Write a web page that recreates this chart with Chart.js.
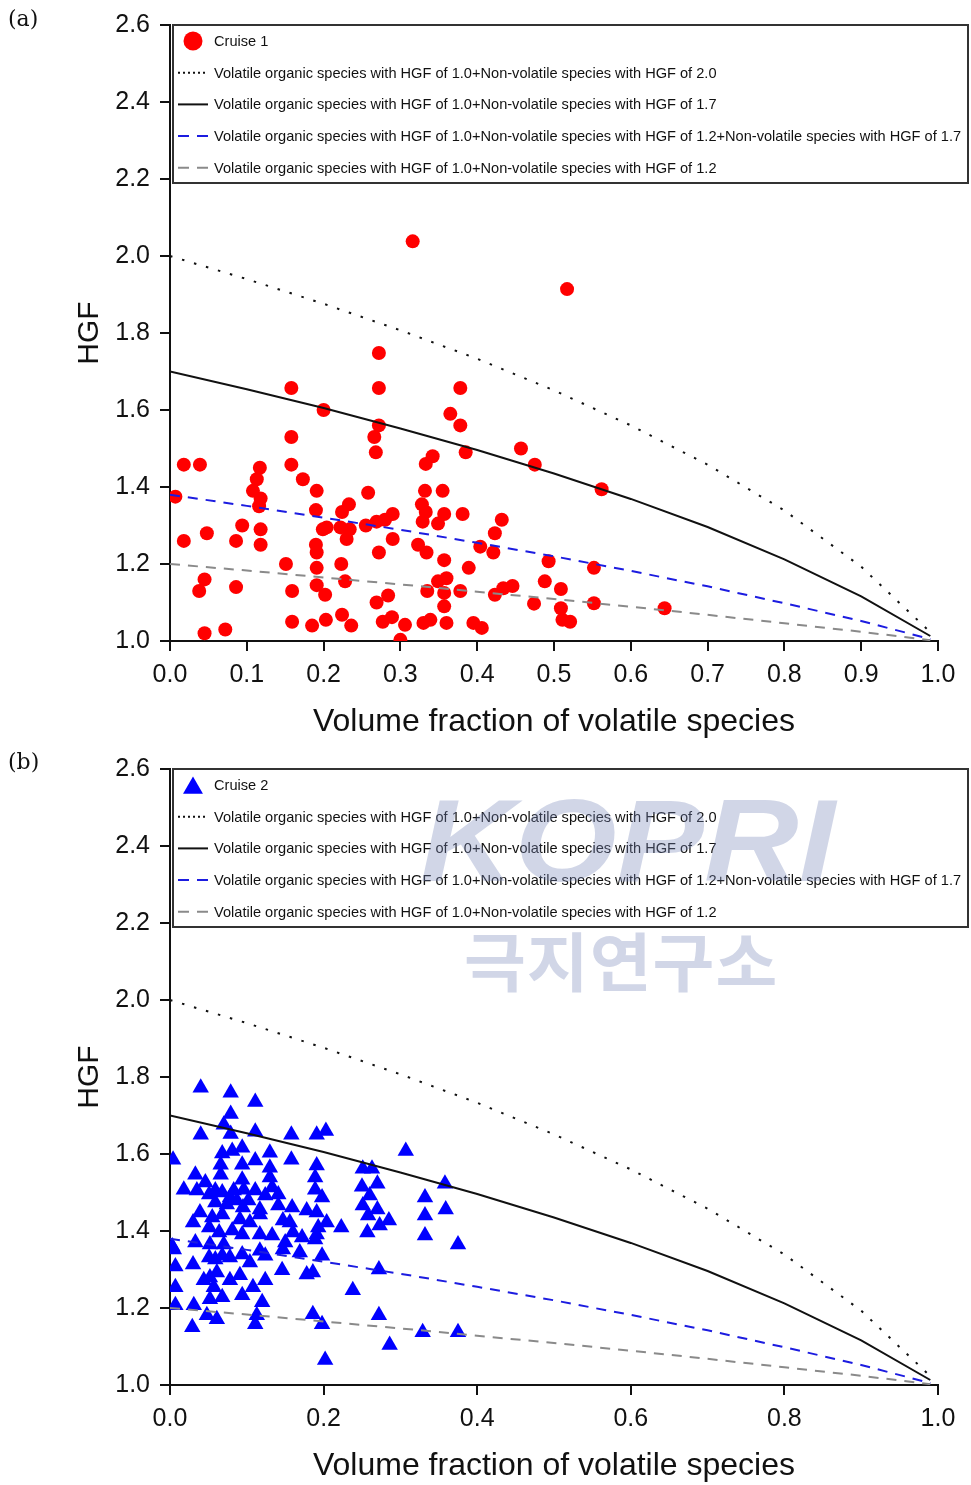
<!DOCTYPE html>
<html>
<head>
<meta charset="utf-8">
<script src="https://cdn.jsdelivr.net/npm/chart.js@4.4.0/dist/chart.umd.min.js"></script>
<style>
  html, body { margin: 0; padding: 0; background: #fff; overflow: hidden; }
  .panel { position: absolute; left: 0; width: 971px; height: 744px; }
  .tag { position: absolute; left: 8px; font: 22px "DejaVu Serif", "Liberation Serif", serif; color: #111; }
  .wm { position: absolute; pointer-events: none; color: rgba(120, 135, 185, 0.34); white-space: nowrap; transform-origin: 0 0; }
</style>
</head>
<body>
<div class="panel" style="top:0">
  <canvas id="chartA" width="971" height="744"></canvas>
  <div class="tag" style="top:6px">(a)</div>
</div>
<div class="panel" style="top:744px">
  <canvas id="chartB" width="971" height="744"></canvas>
  <div class="tag" style="top:5px">(b)</div>
  <div class="wm" style="left:420px;top:30px;font:italic bold 116px 'Liberation Sans',Arial,sans-serif;transform:scaleX(1.13)">KOPRI</div>
  <div class="wm" style="left:464px;top:168px;font:bold 64px 'Noto Sans CJK KR',sans-serif;letter-spacing:1px;transform:scaleX(1.05)">극지연구소</div>
</div>
<script>
// model curves (volatile fraction vs. HGF)
const modelFrac = [0, 0.1, 0.2, 0.3, 0.4, 0.5, 0.6, 0.7, 0.8, 0.9, 0.99];
const hgfNv20 = [2.000, 1.940, 1.876, 1.807, 1.733, 1.651, 1.560, 1.458, 1.339, 1.193, 1.023];
const hgfNv17 = [1.700, 1.654, 1.605, 1.552, 1.496, 1.435, 1.369, 1.296, 1.212, 1.116, 1.013];
const hgfNvMix = [1.380, 1.351, 1.320, 1.289, 1.255, 1.220, 1.182, 1.142, 1.098, 1.052, 1.005];
const hgfNv12 = [1.200, 1.183, 1.165, 1.147, 1.128, 1.109, 1.089, 1.068, 1.046, 1.024, 1.002];

// Cruise 1 measurements
const cruise1Frac = [
  0.158,0.200,0.158,0.018,0.039,0.158,0.117,0.113,0.173,0.108,0.191,0.007,0.118,0.116,0.190,0.094,0.199,0.048,0.118,0.018,
  0.086,0.118,0.190,0.191,0.151,0.191,0.045,0.038,0.086,0.159,0.191,0.202,0.159,0.185,0.203,0.072,0.045,
  0.272,0.272,0.378,0.365,0.272,0.378,0.266,0.268,0.385,0.342,0.333,0.258,0.332,0.355,0.233,0.224,0.328,0.333,0.381,0.357,
  0.290,0.280,0.269,0.255,0.329,0.349,0.204,0.222,0.234,0.230,0.290,0.323,0.334,0.272,0.404,0.223,0.389,0.357,0.228,0.335,
  0.349,0.360,0.357,0.378,0.284,0.269,0.357,0.224,0.236,0.277,0.289,0.306,0.330,0.339,0.360,0.395,0.406,0.300,
  0.517,0.457,0.475,0.562,0.432,0.423,0.421,0.493,0.552,0.488,0.446,0.434,0.423,0.509,0.474,0.552,0.644,0.509,0.511,0.521,0.316
];
const cruise1Hgf = [
  1.657,1.600,1.530,1.458,1.458,1.458,1.450,1.420,1.420,1.390,1.390,1.375,1.370,1.350,1.340,1.300,1.290,1.280,1.290,1.260,
  1.260,1.250,1.250,1.230,1.200,1.190,1.160,1.130,1.140,1.130,1.145,1.120,1.050,1.040,1.055,1.030,1.020,
  1.748,1.657,1.657,1.590,1.560,1.560,1.530,1.490,1.490,1.480,1.460,1.385,1.390,1.390,1.355,1.335,1.355,1.335,1.330,1.330,
  1.330,1.315,1.310,1.300,1.310,1.305,1.295,1.295,1.290,1.265,1.265,1.250,1.230,1.230,1.245,1.200,1.190,1.210,1.155,1.130,
  1.155,1.163,1.125,1.130,1.118,1.100,1.090,1.068,1.040,1.050,1.062,1.042,1.047,1.055,1.047,1.047,1.034,1.003,
  1.914,1.500,1.458,1.394,1.315,1.280,1.230,1.207,1.190,1.155,1.143,1.137,1.120,1.135,1.097,1.098,1.085,1.085,1.055,1.050,2.038
];

// Cruise 2 measurements
const cruise2Frac = [
  0.040,0.079,0.111,0.079,0.070,0.040,0.079,0.111,0.158,0.191,
  0.203,0.307,0.004,0.068,0.081,0.094,0.066,0.094,0.111,0.130,
  0.158,0.191,0.130,0.033,0.066,0.094,0.130,0.189,0.251,0.263,
  0.358,0.250,0.270,0.018,0.035,0.051,0.068,0.083,0.096,0.111,
  0.133,0.189,0.198,0.332,0.260,0.102,0.124,0.141,0.059,0.074,
  0.087,0.251,0.270,0.095,0.117,0.141,0.159,0.178,0.191,0.359,
  0.258,0.332,0.204,0.285,0.273,0.257,0.223,0.193,0.030,0.055,
  0.068,0.091,0.051,0.064,0.081,0.094,0.117,0.147,0.117,0.133,
  0.160,0.172,0.191,0.189,0.332,0.375,0.005,0.052,0.070,0.094,
  0.117,0.124,0.147,0.198,0.007,0.030,0.051,0.059,0.068,0.052,
  0.061,0.078,0.091,0.146,0.178,0.186,0.124,0.108,0.272,0.007,
  0.044,0.057,0.094,0.052,0.068,0.120,0.238,0.007,0.031,0.048,
  0.061,0.029,0.113,0.111,0.186,0.198,0.272,0.329,0.375,0.286,
  0.202,0.046,0.059,0.078,0.039,0.104,0.156,0.150,0.104,0.078,0.169,0.033,0.003
];
const cruise2Hgf = [
  1.772,1.759,1.735,1.704,1.676,1.650,1.652,1.658,1.650,1.650,
  1.660,1.608,1.585,1.601,1.608,1.616,1.572,1.572,1.583,1.603,
  1.585,1.570,1.564,1.546,1.546,1.533,1.539,1.539,1.562,1.562,
  1.523,1.515,1.523,1.507,1.505,1.495,1.500,1.505,1.507,1.505,
  1.513,1.507,1.487,1.487,1.492,1.479,1.492,1.495,1.474,1.469,
  1.479,1.466,1.456,1.461,1.456,1.466,1.461,1.453,1.448,1.456,
  1.440,1.440,1.422,1.427,1.414,1.396,1.409,1.409,1.422,1.435,
  1.443,1.430,1.409,1.396,1.401,1.391,1.443,1.427,1.391,1.388,
  1.396,1.383,1.391,1.378,1.388,1.365,1.352,1.365,1.365,1.339,
  1.349,1.336,1.352,1.336,1.308,1.313,1.331,1.326,1.336,1.279,
  1.292,1.272,1.285,1.298,1.287,1.292,1.272,1.254,1.300,1.254,
  1.272,1.254,1.233,1.223,1.228,1.215,1.246,1.207,1.207,1.181,
  1.171,1.150,1.181,1.158,1.184,1.158,1.181,1.137,1.137,1.104,
  1.065,1.526,1.505,1.487,1.448,1.422,1.422,1.370,1.318,1.331,1.344,1.370,1.360
];

const curveLabels = [
  'Volatile organic species with HGF of 1.0+Non-volatile species with HGF of 2.0',
  'Volatile organic species with HGF of 1.0+Non-volatile species with HGF of 1.7',
  'Volatile organic species with HGF of 1.0+Non-volatile species with HGF of 1.2+Non-volatile species with HGF of 1.7',
  'Volatile organic species with HGF of 1.0+Non-volatile species with HGF of 1.2'
];

const FONT = '"Liberation Sans", Arial, sans-serif';
const zip = (xs, ys) => xs.map((x, i) => ({ x: x, y: ys[i] }));

// boxed legend inside the top of the plot
const boxLegend = {
  id: 'boxLegend',
  afterDraw(chart) {
    const ctx = chart.ctx;
    const area = chart.chartArea;
    const left = area.left + 3, top = area.top, right = 968, bottom = area.top + 158;
    ctx.save();
    ctx.fillStyle = '#fff';
    ctx.fillRect(left, top, right - left, bottom - top);
    ctx.strokeStyle = '#333';
    ctx.lineWidth = 2;
    ctx.strokeRect(left, top, right - left, bottom - top);

    ctx.font = '13px ' + FONT;
    const fs = 13 * 503 / ctx.measureText(curveLabels[0]).width;
    ctx.font = fs + 'px ' + FONT;
    ctx.textBaseline = 'middle';

    const sets = chart.data.datasets.slice().sort((a, b) => a.legendRank - b.legendRank);
    sets.forEach((ds, i) => {
      const y = top + 16 + i * 31.7;
      const x0 = left + 5, x1 = left + 35;
      if (ds.showLine) {
        ctx.save();
        ctx.strokeStyle = ds.borderColor;
        ctx.lineWidth = 2;
        ctx.setLineDash(ds.sampleDash || []);
        ctx.beginPath();
        ctx.moveTo(x0, y);
        ctx.lineTo(x1, y);
        ctx.stroke();
        ctx.restore();
      } else {
        ctx.fillStyle = ds.backgroundColor;
        Chart.helpers.drawPoint(ctx, { pointStyle: ds.pointStyle, radius: ds.legendRadius, rotation: 0, borderWidth: 0 }, (x0 + x1) / 2, y + (ds.pointStyle === 'triangle' ? 3 : 0));
      }
      ctx.fillStyle = '#111';
      ctx.fillText(ds.label, left + 41, y + 1);
    });
    ctx.restore();
  }
};

function makeChart(id, label, xs, ys, marker, xStep) {
  const datasets = [
    {
      label: label, data: zip(xs, ys), order: 5, legendRank: 0,
      pointStyle: marker.style, pointRadius: marker.radius, legendRadius: marker.legendRadius,
      backgroundColor: marker.color, borderWidth: 0, pointBorderWidth: 0
    },
    {
      label: curveLabels[0], data: zip(modelFrac, hgfNv20), order: 1, legendRank: 1, showLine: true,
      borderColor: '#111', borderWidth: 2, borderDash: [2.5, 10], sampleDash: [2, 3], pointRadius: 0
    },
    {
      label: curveLabels[1], data: zip(modelFrac, hgfNv17), order: 1, legendRank: 2, showLine: true,
      borderColor: '#111', borderWidth: 2, pointRadius: 0
    },
    {
      label: curveLabels[2], data: zip(modelFrac, hgfNvMix), order: 1, legendRank: 3, showLine: true,
      borderColor: '#1c1ce0', borderWidth: 2, borderDash: [10, 8], sampleDash: [11, 8], pointRadius: 0
    },
    {
      label: curveLabels[3], data: zip(modelFrac, hgfNv12), order: 1, legendRank: 4, showLine: true,
      borderColor: '#8a8a8a', borderWidth: 2, borderDash: [10, 8], sampleDash: [11, 8], pointRadius: 0
    }
  ];

  return new Chart(document.getElementById(id), {
    type: 'scatter',
    data: { datasets: datasets },
    plugins: [boxLegend],
    options: {
      responsive: false,
      animation: false,
      events: [],
      layout: { padding: { left: 0, right: 33, top: 23, bottom: 0 } },
      plugins: { legend: { display: false }, tooltip: { enabled: false } },
      scales: {
        x: {
          type: 'linear', min: 0, max: 1,
          afterFit: s => { s.height = 103; },
          ticks: { stepSize: xStep, callback: v => v.toFixed(1), color: '#111', padding: 9, font: { family: FONT, size: 25 } },
          grid: { drawOnChartArea: false, drawTicks: true, tickLength: 10, color: '#111', lineWidth: 2 },
          border: { color: '#111', width: 2 },
          title: { display: true, text: 'Volume fraction of volatile species', color: '#111', padding: { top: 0, bottom: 3 }, font: { family: FONT, size: 32 } }
        },
        y: {
          type: 'linear', min: 1, max: 2.6,
          afterFit: s => { s.width = 170; },
          ticks: { stepSize: 0.2, callback: v => v.toFixed(1), color: '#111', padding: 10, font: { family: FONT, size: 25 } },
          grid: { drawOnChartArea: false, drawTicks: true, tickLength: 10, color: '#111', lineWidth: 2 },
          border: { color: '#111', width: 2 },
          title: { display: true, text: 'HGF', color: '#111', padding: { top: 72, bottom: 0 }, font: { family: FONT, size: 30 } }
        }
      }
    }
  });
}

makeChart('chartA', 'Cruise 1', cruise1Frac, cruise1Hgf, { style: 'circle', radius: 7, legendRadius: 9.5, color: '#ff0000' }, 0.1);
makeChart('chartB', 'Cruise 2', cruise2Frac, cruise2Hgf, { style: 'triangle', radius: 9.5, legendRadius: 11.5, color: '#0000ff' }, 0.2);
</script>
</body>
</html>
